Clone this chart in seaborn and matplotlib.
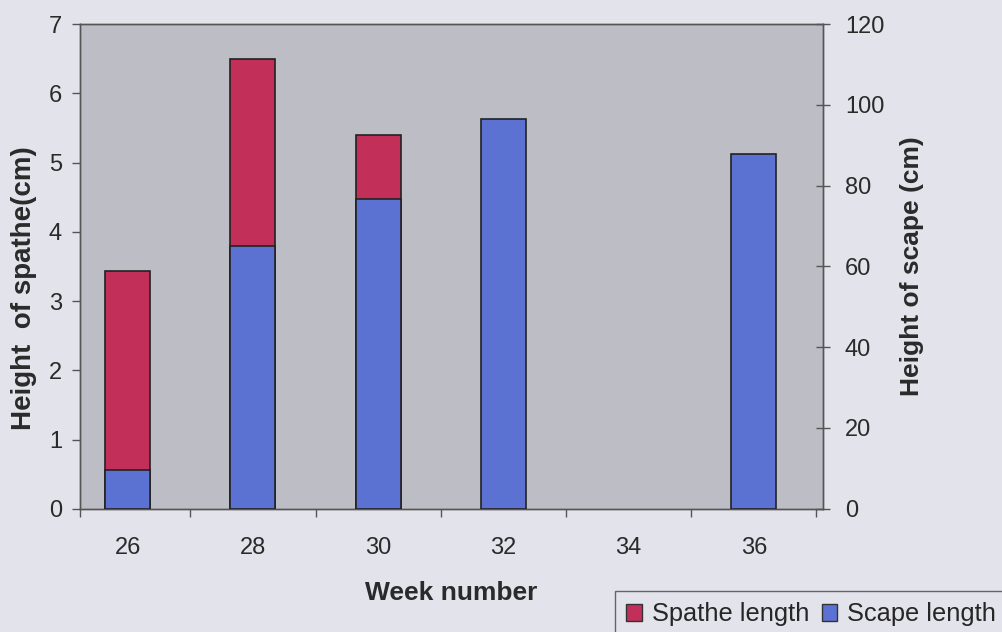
import matplotlib
matplotlib.use("Agg")
import matplotlib.pyplot as plt
import seaborn as sns
import pandas as pd
import numpy as np
from matplotlib.patches import Patch

weeks = ["26", "28", "30", "32", "34", "36"]
spathe_weeks = ["26", "28", "30"]
spathe_cm = [3.43, 6.5, 5.4]
scape_weeks = ["26", "28", "30", "32", "36"]
scape_cm = [9.5, 65.0, 76.7, 96.5, 87.8]

spathe_df = pd.DataFrame({"week": spathe_weeks, "value": spathe_cm})
scape_df = pd.DataFrame({"week": scape_weeks, "value": scape_cm})

sns.set_theme(style="white")
plt.rcParams["font.family"] = ["Liberation Sans", "DejaVu Sans"]

FIG_BG = "#E3E3EB"
AX_BG = "#BDBDC5"
RED = "#C2305A"
BLUE = "#5B72D2"
SPINE = "#555555"
TXT = "#2A2A2A"

fig = plt.figure(figsize=(10.02, 6.32), dpi=100, facecolor=FIG_BG)
ax = fig.add_axes([0.080, 0.195, 0.741, 0.767])
ax.set_facecolor(AX_BG)

sns.barplot(data=spathe_df, x="week", y="value", order=weeks, color=RED,
            width=0.36, saturation=1, edgecolor="#222222", linewidth=1.2,
            ax=ax, zorder=2)
ax2 = ax.twinx()
sns.barplot(data=scape_df, x="week", y="value", order=weeks, color=BLUE,
            width=0.36, saturation=1, edgecolor="#222222", linewidth=1.2,
            ax=ax2, zorder=3)

XLIM = (-0.38, 5.55)
ax.set_ylim(0, 7)
ax2.set_ylim(0, 120)
ax.set_yticks(range(0, 8))
ax2.set_yticks(range(0, 121, 20))

for a in (ax, ax2):
    for s in a.spines.values():
        s.set_color(SPINE)
        s.set_linewidth(1.0)
    a.grid(False)

ax.tick_params(axis="y", direction="out", length=6, width=1, color=SPINE,
               labelsize=17, labelcolor=TXT, pad=7, left=True)
ax2.tick_params(axis="y", direction="inout", length=10, width=1, color=SPINE,
                labelsize=17, labelcolor=TXT, pad=11, right=True)
ax.tick_params(axis="x", length=0, labelsize=17, labelcolor=TXT, pad=20)
minor_x = [XLIM[0]] + list(np.arange(0.5, len(weeks), 1.0))
ax.set_xticks(minor_x, minor=True)
ax.tick_params(axis="x", which="minor", direction="out", length=6, width=1,
               color=SPINE, bottom=True)

for a in (ax, ax2):
    a.set_autoscalex_on(False)
    a.set_xlim(*XLIM)

ax.set_xlabel("Week number", fontsize=19, fontweight="bold", color=TXT,
              labelpad=16)
ax.set_ylabel("Height  of spathe(cm)", fontsize=20, fontweight="bold",
              color=TXT)
ax.yaxis.set_label_coords(-0.058, 0.456)
ax2.set_ylabel("Height of scape (cm)", fontsize=19, fontweight="bold",
               color=TXT, labelpad=11)

handles = [Patch(facecolor=RED, edgecolor="#333333", label="Spathe length"),
           Patch(facecolor=BLUE, edgecolor="#333333", label="Scape length")]
leg = fig.legend(handles=handles, ncol=2, loc="upper left",
                 bbox_to_anchor=(615 / 1002, 1 - 591 / 632), fontsize=18.3,
                 frameon=True, fancybox=False, handlelength=0.6,
                 handleheight=0.6, handletextpad=0.4, columnspacing=0.5,
                 borderpad=0.45, borderaxespad=0)
leg.get_frame().set_edgecolor("#444444")
leg.get_frame().set_facecolor(FIG_BG)
leg.get_frame().set_linewidth(1.0)

fig.savefig("out.png", dpi=100, facecolor=FIG_BG)
